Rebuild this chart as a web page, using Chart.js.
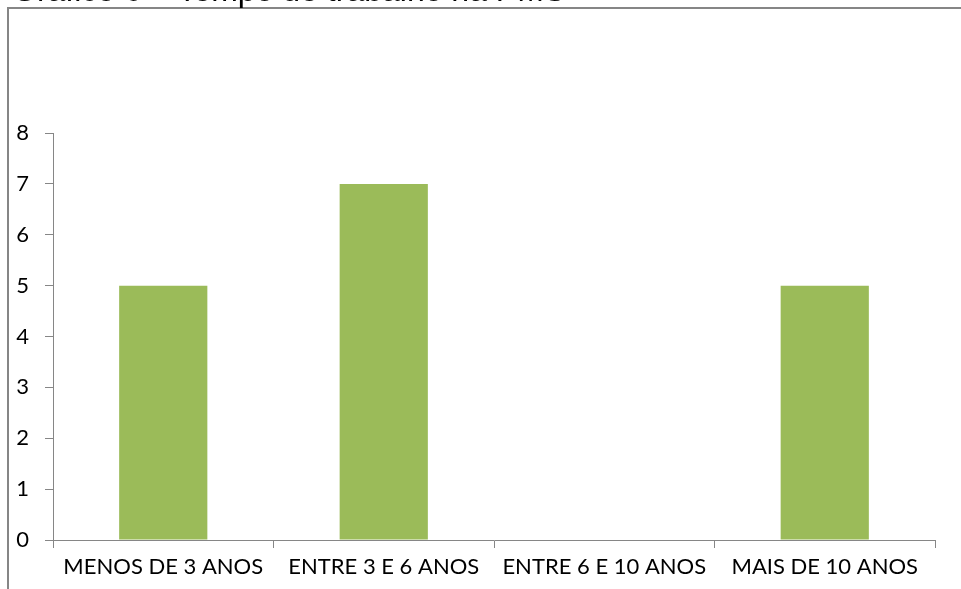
<!DOCTYPE html>
<html>
<head>
<meta charset="utf-8">
<script src="https://cdn.jsdelivr.net/npm/chart.js@4/dist/chart.umd.min.js"></script>
<style>
  html, body { margin: 0; padding: 0; background: #ffffff; }
  #wrap { position: relative; width: 961px; height: 589px; }
</style>
</head>
<body>
<div id="wrap"><canvas id="c" width="961" height="589"></canvas></div>
<script>
const titleText = "Gráfico 6 – Tempo de trabalho na PMS";
const categories = ["MENOS DE 3 ANOS", "ENTRE 3 E 6 ANOS", "ENTRE 6 E 10 ANOS", "MAIS DE 10 ANOS"];
const values = [5, 7, 0, 5];
const yTicks = [0, 1, 2, 3, 4, 5, 6, 7, 8];

const barColor = "#9BBB59";
const axisColor = "#868686";
const labelFont = "Lato, 'Open Sans', sans-serif";

const framePlugin = {
  id: "frame",
  beforeDraw(chart) {
    const ctx = chart.ctx;
    ctx.save();
    ctx.fillStyle = "#ffffff";
    ctx.fillRect(0, 0, chart.width, chart.height);
    // outer frame (cut by page edges)
    ctx.strokeStyle = axisColor;
    ctx.lineWidth = 2;
    ctx.beginPath();
    ctx.moveTo(chart.width + 5, 8);
    ctx.lineTo(8, 8);
    ctx.lineTo(8, chart.height + 5);
    ctx.stroke();
    // title partly above the page
    ctx.fillStyle = "#000000";
    ctx.font = "32px 'Liberation Sans', Arial, sans-serif";
    ctx.textBaseline = "alphabetic";
    ctx.textAlign = "left";
    ctx.fillText(titleText, 12, 1);
    ctx.restore();
  }
};

new Chart(document.getElementById("c"), {
  type: "bar",
  data: {
    labels: categories,
    datasets: [{
      data: values,
      backgroundColor: barColor,
      borderWidth: 0,
      barPercentage: 0.4,
      categoryPercentage: 1.0
    }]
  },
  options: {
    responsive: false,
    animation: false,
    devicePixelRatio: 1,
    layout: { padding: { left: 8, right: 26, top: 133, bottom: 0 } },
    plugins: { legend: { display: false }, tooltip: { enabled: false } },
    scales: {
      x: {
        grid: {
          display: true,
          drawOnChartArea: false,
          drawTicks: true,
          tickLength: 8,
          color: axisColor,
          offset: true
        },
        border: { display: true, color: axisColor, width: 1 },
        ticks: {
          color: "#000000",
          font: { family: labelFont, size: 22 },
          padding: 6,
          maxRotation: 0,
          autoSkip: false
        },
        afterFit(scale) { scale.height = 49; }
      },
      y: {
        min: 0,
        max: 8,
        afterBuildTicks(scale) { scale.ticks = yTicks.map(v => ({ value: v })); },
        grid: {
          display: true,
          drawOnChartArea: false,
          drawTicks: true,
          tickLength: 8,
          color: axisColor
        },
        border: { display: true, color: axisColor, width: 1 },
        ticks: {
          color: "#000000",
          font: { family: labelFont, size: 22 },
          padding: 16,
          align: "center"
        },
        afterFit(scale) { scale.width = 45; }
      }
    }
  },
  plugins: [framePlugin]
});
</script>
</body>
</html>
